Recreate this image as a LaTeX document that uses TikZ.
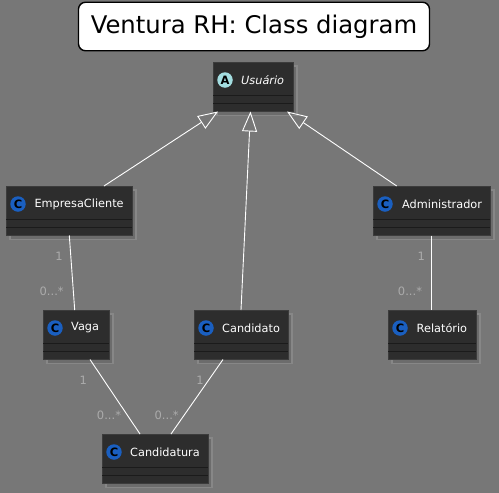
\documentclass[tikz,border=0pt]{standalone}
\usepackage{fontspec}
\setmainfont{DejaVu Sans}
\usetikzlibrary{arrows.meta}
\definecolor{bgc}{HTML}{777777}
\definecolor{boxc}{HTML}{2D2D2D}
\definecolor{edgec}{HTML}{3C3C3C}
\definecolor{sepc}{HTML}{1B1B1B}
\definecolor{shadc}{HTML}{6C6C6C}
\definecolor{shadl}{HTML}{878787}
\definecolor{blue1}{HTML}{1A5FC0}
\definecolor{teal1}{HTML}{A3DDE0}
\definecolor{multc}{HTML}{ABABAB}
\tikzset{
  x=1pt,y=-1pt,
  classbox/.style={draw=edgec,fill=boxc,line width=.9pt,inner sep=0pt,outer sep=0pt},
  shadowbox/.style={draw=shadl,fill=shadc,line width=1.2pt},
  sepline/.style={draw=sepc,line width=.8pt},
  icon/.style={circle,draw=none,minimum size=15.5pt,inner sep=0pt,text=black,font=\bfseries\fontsize{11.5}{11.5}\selectfont},
  cname/.style={anchor=west,text=white,inner sep=0pt,font=\fontsize{11.3}{12}\selectfont},
  link/.style={draw=white,line width=.9pt},
  inherit/.style={link,-{Triangle[open,length=20pt,width=15pt,line width=.9pt]}},
  mult/.style={text=multc,inner sep=0pt,font=\fontsize{11.5}{12}\selectfont},
}
% name, left, top, right, bottom, icon fill, letter, label x, text
\newcommand{\umlclass}[9]{%
  \draw[shadowbox] (#2+4,#3+4) rectangle (#4+4,#5+4);
  \node[classbox,minimum width=#4pt-#2pt,minimum height=#5pt-#3pt] (#1) at ({(#2+#4)/2},{(#3+#5)/2}) {};
  \draw[sepline] ([yshift=-33.5pt]#1.north west) -- ([yshift=-33.5pt]#1.north east);
  \draw[sepline] ([yshift=-41.5pt]#1.north west) -- ([yshift=-41.5pt]#1.north east);
  \node[icon,fill=#6] (#1icon) at (#2+12,#3+18) {#7};
  \node[cname] (#1label) at (#8,#3+18) {#9};
}
\begin{document}
\begin{tikzpicture}
\useasboundingbox[fill=bgc] (0,0) rectangle (499,493);
\node[draw=black,fill=white,rounded corners=7pt,line width=1.4pt,minimum width=351pt,minimum height=48.5pt,inner sep=0pt,font=\fontsize{24.3}{28}\selectfont,text=black] (title) at (254,26.5) {Ventura RH: Class diagram};
\umlclass{usuario}{213}{62}{293}{111.5}{teal1}{A}{241}{\textit{Usuário}}
\umlclass{empresa}{6}{186}{132}{235.5}{blue1}{C}{34.3}{EmpresaCliente}
\umlclass{admin}{373}{186}{490}{235.5}{blue1}{C}{402}{Administrador}
\umlclass{vaga}{43}{310}{109}{359.5}{blue1}{C}{71}{Vaga}
\umlclass{candidato}{194}{310}{288}{359.5}{blue1}{C}{222}{Candidato}
\umlclass{relatorio}{388}{310}{476}{359.5}{blue1}{C}{416.5}{Relatório}
\umlclass{candidatura}{102}{434}{208}{483.5}{blue1}{C}{130}{Candidatura}
\draw[inherit] ([xshift=98pt]empresa.north west) -- ([xshift=-35pt]usuario.south);
\draw[inherit] ([xshift=-47pt]candidato.north east) -- ([xshift=-2.5pt]usuario.south);
\draw[inherit] ([xshift=-34.8pt]admin.north) -- ([xshift=34pt]usuario.south);
\draw[link] ([xshift=.3pt]empresa.south) -- ([xshift=-1.3pt]vaga.north);
\draw[link] ([xshift=-.2pt]admin.south) -- ([xshift=-.7pt]relatorio.north);
\draw[link] ([xshift=14pt]vaga.south) -- ([xshift=-15pt]candidatura.north);
\draw[link] ([xshift=-18pt]candidato.south) -- ([xshift=16pt]candidatura.north);
\node[mult] (m1) at (59,256.5) {1};
\node[mult] (m2) at (51.7,291) {0...*};
\node[mult] (m3) at (421.3,256.5) {1};
\node[mult] (m4) at (410,291) {0...*};
\node[mult] (m5) at (83.3,380) {1};
\node[mult] (m6) at (109,415) {0...*};
\node[mult] (m7) at (200,380) {1};
\node[mult] (m8) at (166.7,415) {0...*};
\end{tikzpicture}
\end{document}
